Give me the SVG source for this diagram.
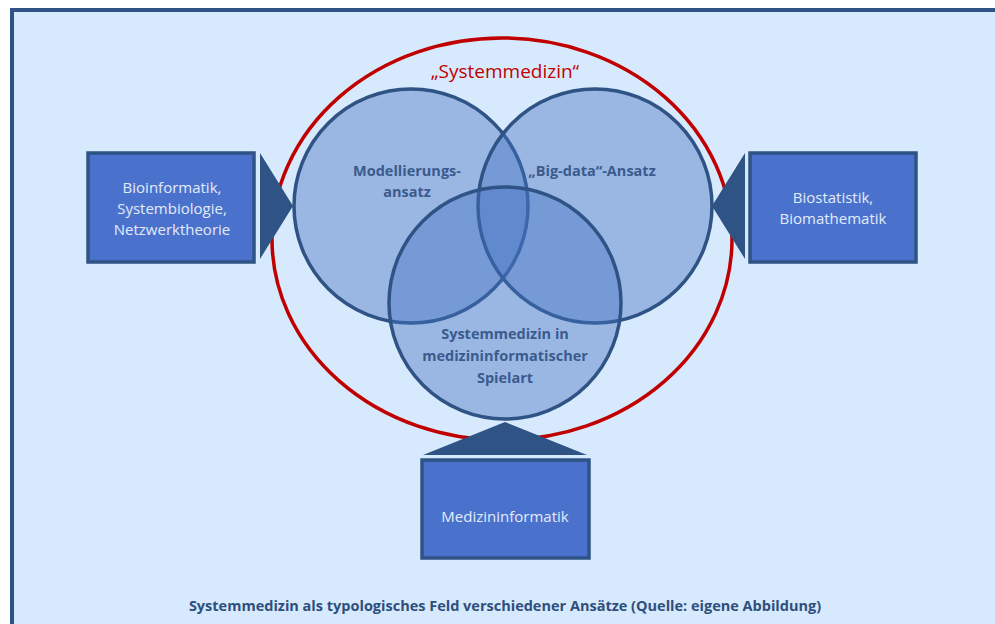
<svg xmlns="http://www.w3.org/2000/svg" width="995" height="624" viewBox="0 0 995 624">
  <style>
    .frame { fill: #d7e9fc; stroke: #2e5384; stroke-width: 4; }
    .venn { fill: #4472c4; fill-opacity: 0.42; stroke: #2e5384; stroke-width: 3.5; }
    .box { fill: #4a72cd; stroke: #2e5384; stroke-width: 3.5; }
    .arrow { fill: #2e5384; }
    .boxtext { font-family: "Open Sans", "Liberation Sans", sans-serif; font-size: 15px; fill: #e3ebf9; text-anchor: middle; }
    .venntext { font-family: "Open Sans", "Liberation Sans", sans-serif; font-size: 14.5px; font-weight: bold; fill: #3a5b8c; text-anchor: middle; }
    .title { font-family: "Open Sans", "Liberation Sans", sans-serif; font-size: 19px; fill: #c00000; text-anchor: middle; }
    .caption { font-family: "Open Sans", "Liberation Sans", sans-serif; font-size: 14.5px; font-weight: bold; fill: #2e4f7d; text-anchor: middle; }
  </style>

  <rect width="995" height="624" fill="#ffffff"/>
  <rect class="frame" x="12" y="10" width="1000" height="640"/>

  <!-- overall field -->
  <g id="systemmedizin">
    <ellipse cx="502" cy="239" rx="230" ry="201" fill="none" stroke="#c00000" stroke-width="3.5"/>
    <text class="title" x="505" y="78">„Systemmedizin“</text>
  </g>

  <!-- three approaches -->
  <g id="modellierung">
    <circle class="venn" cx="411" cy="206" r="117"/>
  </g>
  <g id="bigdata">
    <circle class="venn" cx="595" cy="206" r="117"/>
  </g>
  <g id="medinf-spielart">
    <circle class="venn" cx="505" cy="303" r="116"/>
  </g>
  <g id="venn-labels">
    <text class="venntext" x="407" y="176">Modellierungs-</text>
    <text class="venntext" x="407" y="197">ansatz</text>
    <text class="venntext" x="592" y="176">„Big-data“-Ansatz</text>
    <text class="venntext" x="505" y="339">Systemmedizin in</text>
    <text class="venntext" x="505" y="361">medizininformatischer</text>
    <text class="venntext" x="505" y="383">Spielart</text>
  </g>

  <!-- contributing disciplines -->
  <g id="bioinformatik">
    <rect class="box" x="88" y="153" width="166" height="109"/>
    <text class="boxtext" x="172" y="193">Bioinformatik,</text>
    <text class="boxtext" x="172" y="214">Systembiologie,</text>
    <text class="boxtext" x="172" y="235">Netzwerktheorie</text>
  </g>
  <g id="biostatistik">
    <rect class="box" x="750" y="153" width="166" height="109"/>
    <text class="boxtext" x="833" y="203">Biostatistik,</text>
    <text class="boxtext" x="833" y="224">Biomathematik</text>
  </g>
  <g id="medizininformatik">
    <rect class="box" x="422" y="460" width="167" height="98"/>
    <text class="boxtext" x="505" y="522">Medizininformatik</text>
  </g>

  <g id="connectors">
    <polygon class="arrow" points="260,153 293,206 260,259"/>
    <polygon class="arrow" points="745,153 712,206 745,259"/>
    <polygon class="arrow" points="423,455 505,422 587,455"/>
  </g>

  <text class="caption" x="505" y="611">Systemmedizin als typologisches Feld verschiedener Ansätze (Quelle: eigene Abbildung)</text>
</svg>
